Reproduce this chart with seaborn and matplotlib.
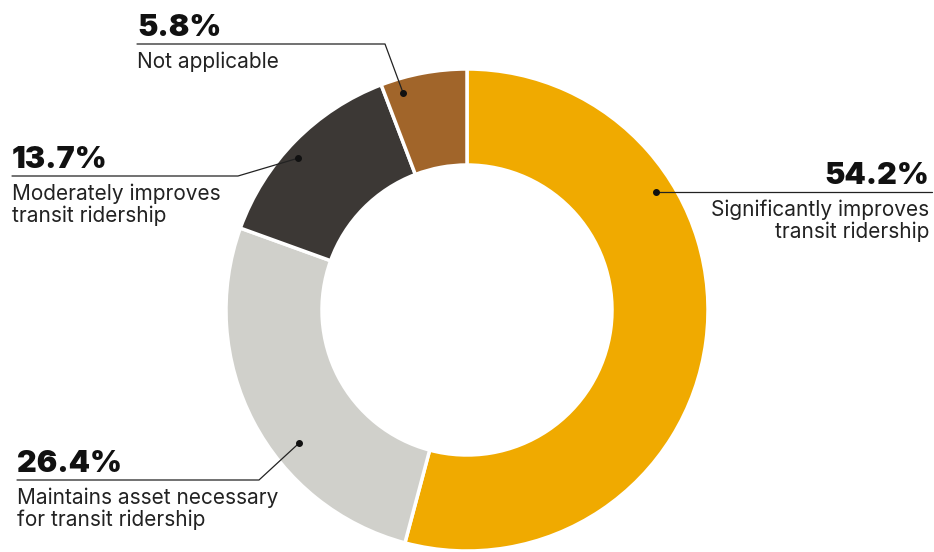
import matplotlib.pyplot as plt
import seaborn as sns
import numpy as np

# data
categories = ['Significantly improves\ntransit ridership',
              'Maintains asset necessary\nfor transit ridership',
              'Moderately improves\ntransit ridership',
              'Not applicable']
shares = [54.2, 26.4, 13.7, 5.8]
colors = ['#F0AA00', '#D0D0CB', '#3C3835', '#A1652A']

sns.set_theme(style='white')
plt.rcParams['font.family'] = ['Inter', 'DejaVu Sans']

W, H = 934, 552
fig = plt.figure(figsize=(W / 100, H / 100), dpi=100)
ax = fig.add_axes([0, 0, 1, 1])

cx, cy, R, ring = 467, 242, 241, 96
ax.pie(shares, colors=sns.color_palette(colors), startangle=90, counterclock=False,
       center=(cx, cy), radius=R,
       wedgeprops=dict(width=ring, edgecolor='white', linewidth=2.5))
ax.set_xlim(0, W)
ax.set_ylim(0, H)
ax.set_aspect('equal')
ax.axis('off')

# label layout: dot (angle deg, radius), elbow x, line y, text x, alignment
layout = [
    dict(dot=(32, 223), elbow=None, line_y=360, line_end=932, tx=929, ha='right'),
    dict(dot=(218.4, 214), elbow=259, line_y=72, line_end=17, tx=17, ha='left'),
    dict(dot=(138, 227), elbow=238, line_y=376, line_end=12, tx=12, ha='left'),
    dict(dot=(106.4, 226), elbow=385, line_y=508, line_end=137, tx=137, ha='left'),
]

for share, label, lay in zip(shares, categories, layout):
    ang, r = lay['dot']
    dx = cx + r * np.cos(np.radians(ang))
    dy = cy + r * np.sin(np.radians(ang))
    ly = lay['line_y']
    if lay['elbow'] is None:
        xs, ys = [dx, lay['line_end']], [ly, ly]
    else:
        xs, ys = [dx, lay['elbow'], lay['line_end']], [dy, ly, ly]
    ax.plot(xs, ys, color='#222222', lw=0.9)
    ax.plot(dx, dy, 'o', color='#111111', ms=4)
    ax.text(lay['tx'], ly + 8, f'{share}%', ha=lay['ha'], va='baseline',
            fontsize=22, fontweight='black', color='#111111')
    ax.text(lay['tx'], ly - 8, label, ha=lay['ha'], va='top',
            fontsize=15, color='#222222', linespacing=1.05)

fig.savefig('out.png', dpi=100)
